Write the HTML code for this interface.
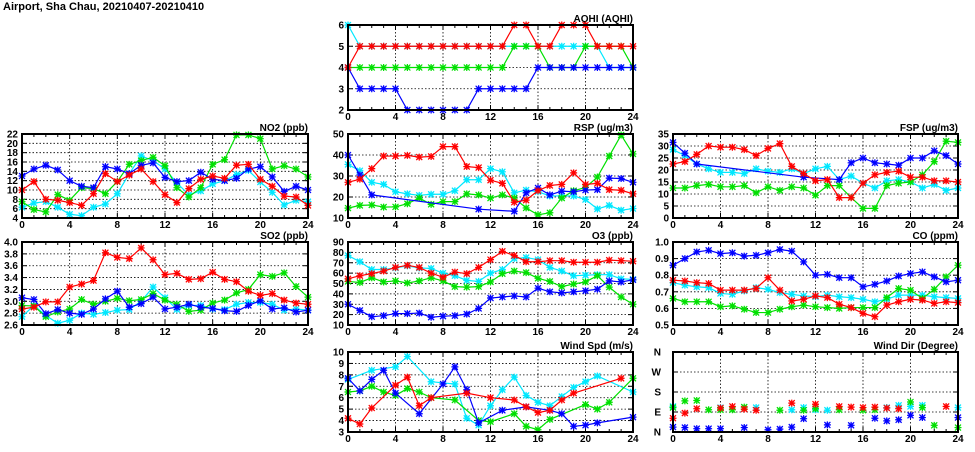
<!DOCTYPE html>
<html><head><meta charset="utf-8"><style>
body{margin:0;background:#fff;width:975px;height:447px;overflow:hidden}
svg text{font-family:"Liberation Sans",sans-serif;font-weight:bold;font-size:10px;fill:#000}
</style></head><body>
<svg id="s" width="975" height="447" xmlns="http://www.w3.org/2000/svg">
<text x="3" y="10" style="font-size:11px">Airport, Sha Chau, 20210407-20210410</text>
</svg>
<script>
const N=null;
const C={r:"#ff0000",g:"#00e000",c:"#00e8ff",b:"#0000ff"};
const P=[
{t:"AQHI (AQHI)",x0:348,x1:633,y0:25,y1:110,mn:2,mx:6,st:1,d:0,s:{
c:[6,5,5,5,5,5,5,5,5,5,5,5,5,5,5,5,5,5,5,5,5,5,4,4,4],
g:[4,4,4,4,4,4,4,4,4,4,4,4,4,4,5,5,5,4,4,4,5,5,5,5,4],
b:[4,3,3,3,3,2,2,2,2,2,2,3,3,3,3,3,4,4,4,4,4,4,4,4,4],
r:[4,5,5,5,5,5,5,5,5,5,5,5,5,5,6,6,5,5,6,6,6,5,5,5,5]}},
{t:"NO2 (ppb)",x0:22,x1:308,y0:134,y1:218,mn:4,mx:22,st:2,d:0,s:{
c:[6.3,7.2,7.5,6.3,4.8,4.5,6.3,7,9.2,13.5,17.3,16.3,14.5,11.5,9,9.8,11.3,12,13.3,14.2,11.7,9.5,6.8,7.8,7.5],
g:[7.5,5.8,5.3,9,7.8,10.5,10.3,9.2,11.8,15.5,16.3,17,15.2,10.5,8.5,10.5,15.5,16.5,21.8,21.8,21,14.5,15.2,14.5,12.8],
b:[13,14.5,15.3,14.3,12,10.8,10.5,15,14.5,13.5,15.3,15.8,12.7,11.8,12,13.8,12.3,12,12.5,14.5,15,12.8,9.7,10.8,10],
r:[10,11.8,8,7.8,7.3,6.7,9.2,13.5,11.8,13.2,14.5,11.8,9,7.3,10.3,12.3,13,12.5,15.3,15.5,12.3,10.8,8.7,8.5,6.7]}},
{t:"RSP (ug/m3)",x0:348,x1:633,y0:134,y1:218,mn:10,mx:50,st:10,d:0,s:{
c:[35.5,32.5,27,26,22.5,21.5,20.8,21.3,21.3,23,28.2,28.2,33.5,32,22,23.3,22.5,20.5,20.5,20.5,18.8,14.3,16,13.7,14.5],
g:[14.7,16,16.2,15.2,15.3,16.8,19.5,16.5,17.8,17.8,21.5,21,19.5,21,19.5,14.8,11.5,12.5,19.5,23,24.5,29.5,39.5,49.5,40.5],
b:[40,30.5,21,N,N,N,N,N,N,N,N,14.2,N,N,13.2,22,24.3,21,22.8,22.5,23.3,23.5,29,28.8,27],
r:[27,28.5,33.5,39.5,39.5,39.8,39,39.3,44,44,34.5,34,28,26.5,17.5,18.5,23,25.5,26,31.5,26,26.5,23.5,23.2,21.5]}},
{t:"FSP (ug/m3)",x0:673,x1:958,y0:134,y1:218,mn:0,mx:35,st:5,d:0,s:{
c:[28.5,26,22.5,20.5,19,19,18.5,20.5,19.5,19,20.5,18.5,20.5,21.5,16,17.5,14.5,12.5,15.5,16,15,12.5,14,11.5,12.5],
g:[12.5,12.5,13.5,14,13,13,13.5,10.5,13,11.5,13,12.5,9.5,13.5,13.5,8.5,4,4,13.5,14.5,15,18,23.5,32,31.5],
b:[31.5,27,22.5,N,N,N,N,N,N,N,N,17,N,N,16,23,25,23,22.5,22,25,25,28,26,22.5],
r:[22.5,23.5,26.5,30,29.5,29.5,28.5,26,29,31,21.5,18.5,15.5,16,8.5,8.5,14.5,18,19,19.5,17,17,15.5,15.5,15]}},
{t:"SO2 (ppb)",x0:22,x1:308,y0:242,y1:325,mn:2.6,mx:4.0,st:0.2,d:1,s:{
c:[2.74,2.93,2.76,2.63,2.68,2.8,2.78,2.81,2.85,2.86,3.0,3.24,3.06,2.86,2.93,2.93,2.87,2.86,2.95,2.98,2.98,2.95,2.85,2.87,2.85],
g:[2.93,2.92,2.74,2.82,2.87,3.03,2.95,3.0,3.05,3.01,3.03,3.13,3.02,2.95,2.83,2.85,2.97,3.02,3.14,3.2,3.45,3.42,3.48,3.25,3.07],
b:[3.06,3.03,2.79,2.86,2.8,2.78,2.87,3.04,3.17,2.9,2.96,3.07,2.87,2.9,2.95,2.9,2.88,2.84,2.83,2.93,3.01,2.87,2.89,2.82,2.85],
r:[2.87,2.9,2.99,2.99,3.24,3.29,3.35,3.82,3.74,3.72,3.9,3.7,3.45,3.47,3.37,3.38,3.49,3.37,3.33,3.17,3.1,3.13,3.02,2.97,2.95]}},
{t:"O3 (ppb)",x0:348,x1:633,y0:242,y1:325,mn:10,mx:90,st:10,d:0,s:{
c:[77,71,63.5,63.5,65,67,65,64.5,60,57.5,53,52,60,63.5,74,75,73,65.5,62,57.5,58,58.5,58.5,54.5,54],
g:[52,51,55.5,51.5,52.5,50.5,52.5,55.5,52.5,47,46.5,47,51.5,59.5,62,60.5,55,52,47,49.5,51.5,57.5,46.5,37,30],
b:[30,24,18,19,21,21,21.5,17.5,18.5,19,20.5,26,36,37,38,37,45.5,42,41,42,43,44.5,52.5,51.5,53.5],
r:[54.5,57.5,59.5,62,65.5,67.5,65.5,60,56,61,59.5,65.5,73,81,77,71,71,72,72,70.5,70.5,70.5,72.5,72,71.5]}},
{t:"CO (ppm)",x0:673,x1:958,y0:242,y1:325,mn:0.5,mx:1.0,st:0.1,d:1,s:{
c:[.755,.74,.73,.725,.69,.685,.705,.725,.715,.695,.685,.675,.67,.68,.67,.665,.655,.64,.655,.68,.68,.68,.67,.665,.66],
g:[.66,.64,.64,.64,.61,.615,.595,.575,.575,.595,.61,.62,.61,.605,.60,.605,.605,.605,.665,.72,.71,.66,.715,.79,.86],
b:[.86,.90,.94,.95,.93,.935,.915,.92,.935,.955,.945,.88,.80,.805,.785,.785,.73,.745,.765,.795,.81,.82,.79,.76,.77],
r:[.77,.765,.755,.75,.71,.71,.71,.72,.785,.71,.645,.655,.675,.665,.625,.605,.57,.55,.62,.64,.655,.65,.63,.64,.635]}},
{t:"Wind Spd (m/s)",x0:348,x1:633,y0:352,y1:432,mn:3,mx:10,st:1,d:0,s:{
c:[7.6,N,8.4,N,8.7,9.6,N,7.4,N,7.2,4.2,3.6,5.3,6.7,7.8,6.2,5.6,5.3,6.1,6.9,7.4,7.9,N,N,6.5],
g:[6.5,6.6,7.0,6.5,6.2,6.8,6.5,6.0,N,5.8,N,4.0,3.9,N,4.6,3.5,3.2,4.1,N,N,5.4,5.0,5.6,N,7.7],
b:[7.7,6.6,7.6,8.4,6.4,N,4.6,N,7.2,8.7,6.7,3.8,N,4.9,N,5.2,N,4.9,4.6,3.5,3.6,3.8,N,N,4.3],
r:[4.2,3.7,5.1,N,7.1,7.8,5.3,6.0,N,N,6.4,N,6.0,N,5.8,5.2,4.7,4.9,5.8,6.4,N,N,N,7.7,N]}},
{t:"Wind Dir (Degree)",x0:673,x1:958,y0:352,y1:432,mn:0,mx:360,st:90,lab:["N","E","S","W","N"],sc:1,s:{
c:[115,N,N,N,110,N,N,110,N,N,100,110,100,98,N,N,N,N,110,120,115,120,N,N,110],
g:[110,140,142,100,100,100,112,N,N,98,N,98,105,N,100,N,98,100,N,N,135,110,30,N,20],
b:[22,20,15,15,15,N,20,N,10,13,22,60,N,32,N,30,N,62,50,55,75,65,N,N,65],
r:[62,85,105,N,108,115,103,98,N,N,130,N,125,N,115,112,110,112,108,105,N,N,N,115,N]}}
];
const S=document.getElementById("s");let h="";
function mk(x,y,c){return `<rect x="${x-2.5}" y="${y-2.5}" width="5" height="5" fill="${c}" fill-opacity="0.35"/><path d="M${x-3} ${y-3}L${x+3} ${y+3}M${x-3} ${y+3}L${x+3} ${y-3}M${x} ${y-3.5}V${y+3.5}M${x-3.5} ${y}H${x+3.5}" stroke="${c}" stroke-width="1.2"/>`;}
for(const p of P){
 const X=i=>p.x0+(p.x1-p.x0)*i/24, Y=v=>p.y1-(p.y1-p.y0)*(v-p.mn)/(p.mx-p.mn);
 // grid
 for(let i=4;i<24;i+=4)h+=`<line x1="${X(i)}" y1="${p.y0}" x2="${X(i)}" y2="${p.y1}" stroke="#000" stroke-width="0.8" stroke-dasharray="1.5,2"/>`;
 let k=0;
 for(let v=p.mn;v<=p.mx+1e-9;v+=p.st,k++){const y=Y(v);
  if(v>p.mn+1e-9&&v<p.mx-1e-9)h+=`<line x1="${p.x0}" y1="${y}" x2="${p.x1}" y2="${y}" stroke="#000" stroke-width="0.8" stroke-dasharray="1.5,2"/>`;
  h+=`<line x1="${p.x0}" y1="${y}" x2="${p.x0+5}" y2="${y}" stroke="#000"/><line x1="${p.x1-5}" y1="${y}" x2="${p.x1}" y2="${y}" stroke="#000"/>`;
  const lb=p.lab?p.lab[k]:v.toFixed(p.d);
  h+=`<text x="${p.x0-(p.lab?12:4)}" y="${y+3.5}" text-anchor="end">${lb}</text>`;}
 for(let i=0;i<=24;i++){const x=X(i),L=i%4==0?5:3;h+=`<line x1="${x}" y1="${p.y1}" x2="${x}" y2="${p.y1-L}" stroke="#000"/><line x1="${x}" y1="${p.y0}" x2="${x}" y2="${p.y0+L}" stroke="#000"/>`;
  if(i%4==0)h+=`<text x="${x}" y="${p.y1+10}" text-anchor="middle">${i}</text>`;}
 h+=`<text x="${p.x1}" y="${p.y0-3}" text-anchor="end">${p.t}</text>`;
 for(const key of ["c","g","b","r"]){const a=p.s[key],c=C[key];
  const pts=[];a.forEach((v,i)=>{if(v!==null)pts.push([X(i),Y(v)])});
  if(!p.sc)h+=`<polyline points="${pts.map(q=>q.join(",")).join(" ")}" fill="none" stroke="${c}" stroke-width="1.2"/>`;
  pts.forEach(q=>h+=mk(q[0],q[1],c));}
 h+=`<rect x="${p.x0}" y="${p.y0}" width="${p.x1-p.x0}" height="${p.y1-p.y0}" fill="none" stroke="#000" stroke-width="2"/>`;
}
S.insertAdjacentHTML("beforeend",h);
</script>
</body></html>
